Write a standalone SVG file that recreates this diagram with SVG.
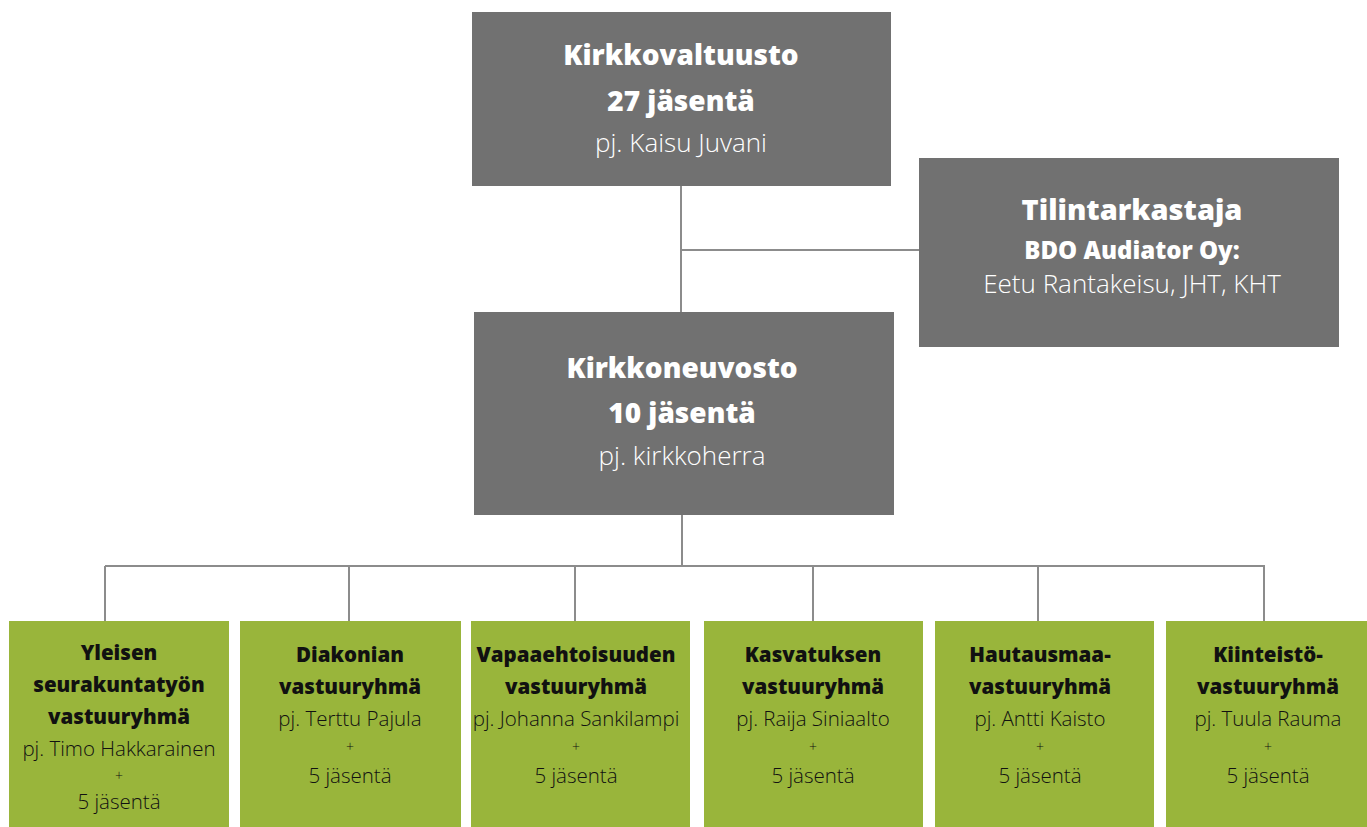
<svg xmlns="http://www.w3.org/2000/svg" width="1367" height="827" viewBox="0 0 1367 827">
<style>
.gbox{fill:#717171}
.box{fill:#99b53b}
.conn{stroke:#8c8c8c;stroke-width:2;fill:none}
text{text-anchor:middle;font-family:"Open Sans","Noto Sans","DejaVu Sans",sans-serif}
.wb{fill:#fff;font-weight:800;font-size:28px}
.wt{fill:#fff;font-weight:800;font-size:29px}
.wb2{fill:#fff;font-weight:800;font-size:24px}
.wr{fill:#fff;font-weight:300;font-size:26px}
.kb{fill:#111;font-weight:800;font-size:20.5px}
.kr{fill:#111;font-weight:300;font-size:20.5px}
.kp{fill:#111;font-weight:300;font-size:14px}
</style>
<rect width="1367" height="827" fill="#fff"/>
<g id="connectors">
<path class="conn" d="M681 186V312M681 250H919"/>
<path class="conn" d="M682 515V566M105 566H1264V621M105 566V621M349 566V621M575 566V621M813 566V621M1038 566V621"/>
</g>
<g id="kirkkovaltuusto">
<rect class="gbox" x="472" y="12" width="419" height="174"/>
<text class="wb" x="681" y="65">Kirkkovaltuusto</text>
<text class="wb" x="681" y="111">27 jäsentä</text>
<text class="wr" x="681" y="152">pj. Kaisu Juvani</text>
</g>
<g id="tilintarkastaja">
<rect class="gbox" x="919" y="158" width="420" height="189"/>
<text class="wt" x="1132" y="220">Tilintarkastaja</text>
<text class="wb2" x="1132" y="259">BDO Audiator Oy:</text>
<text class="wr" x="1132" y="293">Eetu Rantakeisu, JHT, KHT</text>
</g>
<g id="kirkkoneuvosto">
<rect class="gbox" x="474" y="312" width="420" height="203"/>
<text class="wb" x="682" y="378">Kirkkoneuvosto</text>
<text class="wb" x="682" y="423">10 jäsentä</text>
<text class="wr" x="682" y="465">pj. kirkkoherra</text>
</g>
<g id="yleisen">
<rect class="box" x="9" y="621" width="220" height="206"/>
<text class="kb" x="119" y="660">Yleisen</text>
<text class="kb" x="119" y="692">seurakuntatyön</text>
<text class="kb" x="119" y="724">vastuuryhmä</text>
<text class="kr" x="119" y="756">pj. Timo Hakkarainen</text>
<text class="kp" x="119" y="781">+</text>
<text class="kr" x="119" y="809">5 jäsentä</text>
</g>
<g id="diakonian">
<rect class="box" x="240" y="621" width="221" height="206"/>
<text class="kb" x="350" y="662">Diakonian</text>
<text class="kb" x="350" y="694">vastuuryhmä</text>
<text class="kr" x="350" y="726">pj. Terttu Pajula</text>
<text class="kp" x="350" y="752">+</text>
<text class="kr" x="350" y="783">5 jäsentä</text>
</g>
<g id="vapaaehtoisuuden">
<rect class="box" x="471" y="621" width="219" height="206"/>
<text class="kb" x="576" y="662">Vapaaehtoisuuden</text>
<text class="kb" x="576" y="694">vastuuryhmä</text>
<text class="kr" x="576" y="726">pj. Johanna Sankilampi</text>
<text class="kp" x="576" y="752">+</text>
<text class="kr" x="576" y="783">5 jäsentä</text>
</g>
<g id="kasvatuksen">
<rect class="box" x="704" y="621" width="219" height="206"/>
<text class="kb" x="813" y="662">Kasvatuksen</text>
<text class="kb" x="813" y="694">vastuuryhmä</text>
<text class="kr" x="813" y="726">pj. Raija Siniaalto</text>
<text class="kp" x="813" y="752">+</text>
<text class="kr" x="813" y="783">5 jäsentä</text>
</g>
<g id="hautausmaa">
<rect class="box" x="935" y="621" width="219" height="206"/>
<text class="kb" x="1040" y="662">Hautausmaa-</text>
<text class="kb" x="1040" y="694">vastuuryhmä</text>
<text class="kr" x="1040" y="726">pj. Antti Kaisto</text>
<text class="kp" x="1040" y="752">+</text>
<text class="kr" x="1040" y="783">5 jäsentä</text>
</g>
<g id="kiinteisto">
<rect class="box" x="1166" y="621" width="201" height="206"/>
<text class="kb" x="1268" y="662">Kiinteistö-</text>
<text class="kb" x="1268" y="694">vastuuryhmä</text>
<text class="kr" x="1268" y="726">pj. Tuula Rauma</text>
<text class="kp" x="1268" y="752">+</text>
<text class="kr" x="1268" y="783">5 jäsentä</text>
</g>
</svg>
